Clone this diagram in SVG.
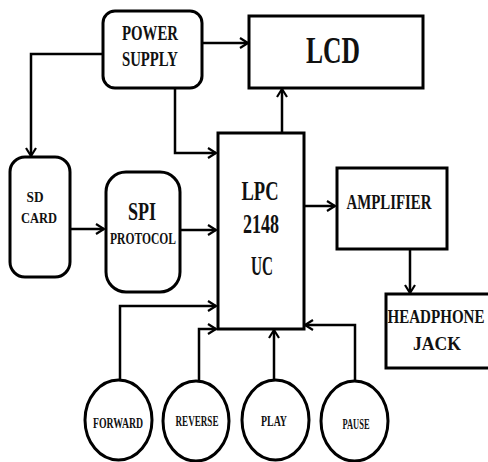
<svg xmlns="http://www.w3.org/2000/svg" width="488" height="462" viewBox="0 0 488 462">
<defs>
<style>
.box{fill:#fff;stroke:#000;stroke-width:3}
.ln{fill:none;stroke:#000;stroke-width:2.5}
text{font-family:"Liberation Serif","Times New Roman",serif;font-weight:bold;fill:#111;text-anchor:middle}
</style>
<marker id="ah" markerUnits="userSpaceOnUse" markerWidth="14" markerHeight="14" refX="9" refY="6" orient="auto">
<path d="M1,1 L9,6 L1,11" fill="none" stroke="#000" stroke-width="2.2"/>
</marker>
</defs>
<rect width="488" height="462" fill="#fff"/>
<g id="connectors">
<path class="ln" d="M202,43 H248" marker-end="url(#ah)"/>
<path class="ln" d="M103,54 H31 V156" marker-end="url(#ah)"/>
<path class="ln" d="M175,88 V153 H216" marker-end="url(#ah)"/>
<path class="ln" d="M282,132 V89" marker-end="url(#ah)"/>
<path class="ln" d="M70,229 H104" marker-end="url(#ah)"/>
<path class="ln" d="M180,230 H216" marker-end="url(#ah)"/>
<path class="ln" d="M304,206 H335" marker-end="url(#ah)"/>
<path class="ln" d="M410,249 V293" marker-end="url(#ah)"/>
<path class="ln" d="M120,380 V306 H216" marker-end="url(#ah)"/>
<path class="ln" d="M199,381 V329 H216" marker-end="url(#ah)"/>
<path class="ln" d="M274,380 V330" marker-end="url(#ah)"/>
<path class="ln" d="M355,381 V325 H305" marker-end="url(#ah)"/>
</g>
<g id="power">
<rect class="box" x="103" y="11" width="99" height="77" rx="12"/>
<text x="150" y="40" font-size="20" textLength="56" lengthAdjust="spacingAndGlyphs">POWER</text>
<text x="150" y="66" font-size="20" textLength="56" lengthAdjust="spacingAndGlyphs">SUPPLY</text>
</g>
<g id="lcd">
<rect class="box" x="249" y="16" width="174" height="72"/>
<text x="333" y="63" font-size="37" textLength="54" lengthAdjust="spacingAndGlyphs">LCD</text>
</g>
<g id="sdcard">
<rect class="box" x="10" y="157" width="60" height="120" rx="15"/>
<text x="35" y="202" font-size="15" textLength="17" lengthAdjust="spacingAndGlyphs">SD</text>
<text x="39" y="223" font-size="15" textLength="36" lengthAdjust="spacingAndGlyphs">CARD</text>
</g>
<g id="spi">
<rect class="box" x="106" y="172" width="74" height="120" rx="20"/>
<text x="142" y="220" font-size="25" textLength="28" lengthAdjust="spacingAndGlyphs">SPI</text>
<text x="143" y="244" font-size="17" textLength="66" lengthAdjust="spacingAndGlyphs">PROTOCOL</text>
</g>
<g id="lpc">
<rect class="box" x="218" y="133" width="86" height="196"/>
<text x="260" y="200" font-size="27" textLength="37" lengthAdjust="spacingAndGlyphs">LPC</text>
<text x="261" y="233" font-size="27" textLength="36" lengthAdjust="spacingAndGlyphs">2148</text>
<text x="262" y="275" font-size="27" textLength="22" lengthAdjust="spacingAndGlyphs">UC</text>
</g>
<g id="amplifier">
<rect class="box" x="337" y="168" width="110" height="81"/>
<text x="389" y="209" font-size="21" textLength="85" lengthAdjust="spacingAndGlyphs">AMPLIFIER</text>
</g>
<g id="headphone">
<rect class="box" x="386" y="294" width="110" height="74"/>
<text x="436" y="323" font-size="19" textLength="97" lengthAdjust="spacingAndGlyphs">HEADPHONE</text>
<text x="437" y="350" font-size="19" textLength="48" lengthAdjust="spacingAndGlyphs">JACK</text>
</g>
<g id="forward">
<ellipse class="box" cx="118.5" cy="420" rx="33.5" ry="40"/>
<text x="118" y="428" font-size="14.5" textLength="50" lengthAdjust="spacingAndGlyphs">FORWARD</text>
</g>
<g id="reverse">
<ellipse class="box" cx="196" cy="421" rx="33" ry="40"/>
<text x="197" y="426" font-size="14.5" textLength="43" lengthAdjust="spacingAndGlyphs">REVERSE</text>
</g>
<g id="play">
<ellipse class="box" cx="275.5" cy="420" rx="33.5" ry="40"/>
<text x="274" y="426" font-size="14.5" textLength="26" lengthAdjust="spacingAndGlyphs">PLAY</text>
</g>
<g id="pause">
<ellipse class="box" cx="354.5" cy="421" rx="33.5" ry="40"/>
<text x="356" y="429" font-size="14.5" textLength="27" lengthAdjust="spacingAndGlyphs">PAUSE</text>
</g>
</svg>
